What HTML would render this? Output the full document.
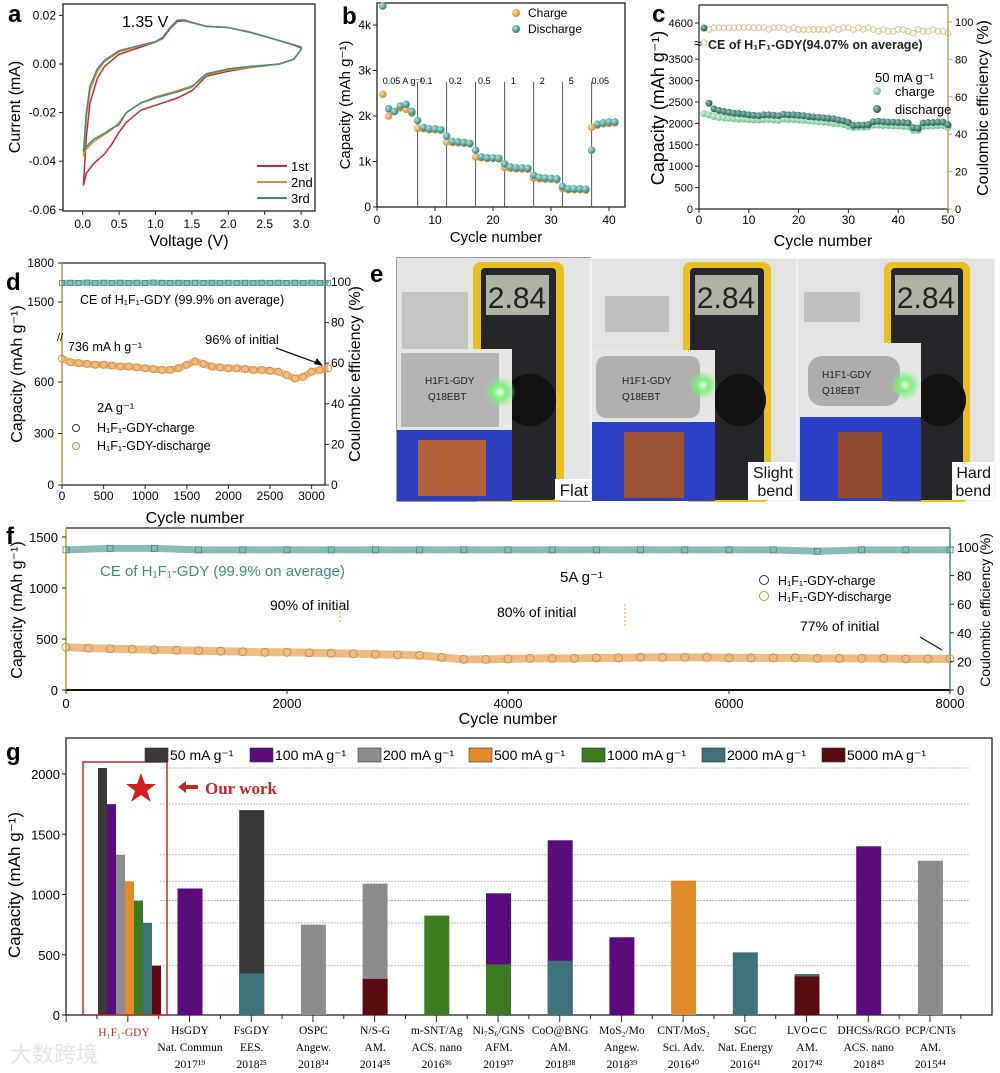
<!DOCTYPE html>
<html><head><meta charset="utf-8"><style>
body{margin:0;background:#fff}
svg{display:block;font-family:"Liberation Sans","Noto Sans CJK SC",sans-serif}
</style></head><body>
<svg id="fig" width="1000" height="1073" viewBox="0 0 1000 1073" xmlns="http://www.w3.org/2000/svg">
<defs>
<radialGradient id="gOr" cx="35%" cy="35%" r="65%"><stop offset="0" stop-color="#fbe0b0"/><stop offset="1" stop-color="#d88a2a"/></radialGradient>
<radialGradient id="gTe" cx="35%" cy="35%" r="65%"><stop offset="0" stop-color="#b6e0da"/><stop offset="1" stop-color="#2f8580"/></radialGradient>
<radialGradient id="gLg" cx="35%" cy="35%" r="65%"><stop offset="0" stop-color="#d8f0dc"/><stop offset="1" stop-color="#6fbf90"/></radialGradient>
<radialGradient id="gDg" cx="35%" cy="35%" r="65%"><stop offset="0" stop-color="#8fc0b0"/><stop offset="1" stop-color="#1f5f55"/></radialGradient>
<radialGradient id="glow" cx="50%" cy="50%" r="50%"><stop offset="0" stop-color="#f4fff4"/><stop offset="0.4" stop-color="#7cf07c"/><stop offset="1" stop-color="#7cf07c" stop-opacity="0"/></radialGradient>
</defs>
<g id="pa"></g>
<g id="pb"></g>
<g id="pc"></g>
<g id="pd"></g>
<g id="pe">
  <text x="370" y="282" font-size="24" font-weight="bold">e</text>
  <rect x="397" y="258" width="598" height="243" fill="#dcdcda" stroke="#333"/>
  <g>
    <rect x="397" y="258" width="194" height="243" fill="#e4e4e2"/>
    <rect x="402" y="292" width="66" height="58" fill="#c4c4c2"/>
    <rect x="473" y="262" width="91" height="240" rx="8" fill="#e8c020"/>
    <rect x="481" y="268" width="75" height="232" rx="4" fill="#26262a"/>
    <rect x="486" y="275" width="63" height="40" fill="#aeb3a6"/>
    <text x="517" y="308" font-size="30" text-anchor="middle" fill="#222">2.84</text>
    <circle cx="530" cy="400" r="26" fill="#111"/>
    <rect x="397" y="349" width="115" height="81" fill="#e6e6e4"/>
    <rect x="401" y="353" width="98" height="74" fill="#b3b3b3"/>
    <text x="425" y="384" font-size="10" fill="#222">H1F1-GDY</text>
    <text x="428" y="400" font-size="10" fill="#222">Q18EBT</text>
    <circle cx="500" cy="392" r="16" fill="url(#glow)"/>
    <rect x="397" y="430" width="115" height="71" fill="#2b3fbe"/>
    <rect x="418" y="440" width="68" height="56" fill="#b2613c"/>
    <rect x="555" y="479" width="36" height="21" fill="#fff"/>
    <text x="588" y="496" font-size="17" text-anchor="end" fill="#111">Flat</text>
  </g>
  <g>
    <rect x="591" y="258" width="206" height="243" fill="#e2e2e0" stroke="#fff"/>
    <rect x="605" y="296" width="64" height="36" fill="#c0c0be"/>
    <rect x="683" y="262" width="88" height="240" rx="8" fill="#e8c020"/>
    <rect x="690" y="268" width="74" height="232" rx="4" fill="#26262a"/>
    <rect x="695" y="275" width="63" height="40" fill="#aeb3a6"/>
    <text x="726" y="308" font-size="30" text-anchor="middle" fill="#222">2.84</text>
    <circle cx="740" cy="400" r="26" fill="#111"/>
    <rect x="592" y="350" width="123" height="72" fill="#e6e6e4"/>
    <rect x="596" y="356" width="104" height="62" rx="10" fill="#b0b0b0"/>
    <text x="622" y="384" font-size="10" fill="#222">H1F1-GDY</text>
    <text x="622" y="400" font-size="10" fill="#222">Q18EBT</text>
    <circle cx="703" cy="385" r="14" fill="url(#glow)"/>
    <rect x="592" y="422" width="123" height="79" fill="#2b40c4"/>
    <rect x="624" y="432" width="60" height="66" fill="#9c5236"/>
    <rect x="748" y="462" width="48" height="38" fill="#fff"/>
    <text x="793" y="478" font-size="16" text-anchor="end" fill="#111">Slight</text>
    <text x="793" y="496" font-size="16" text-anchor="end" fill="#111">bend</text>
  </g>
  <g>
    <rect x="797" y="258" width="198" height="243" fill="#e2e2e0" stroke="#fff"/>
    <rect x="804" y="292" width="56" height="30" fill="#c0c0be"/>
    <rect x="884" y="262" width="86" height="240" rx="8" fill="#e8c020"/>
    <rect x="891" y="268" width="72" height="232" rx="4" fill="#26262a"/>
    <rect x="895" y="275" width="63" height="40" fill="#aeb3a6"/>
    <text x="926" y="308" font-size="30" text-anchor="middle" fill="#222">2.84</text>
    <circle cx="940" cy="400" r="26" fill="#111"/>
    <rect x="800" y="343" width="121" height="74" fill="#e6e6e4"/>
    <rect x="808" y="356" width="92" height="50" rx="14" fill="#adadad"/>
    <text x="822" y="378" font-size="10" fill="#222">H1F1-GDY</text>
    <text x="822" y="394" font-size="10" fill="#222">Q18EBT</text>
    <circle cx="905" cy="385" r="15" fill="url(#glow)"/>
    <rect x="800" y="417" width="121" height="84" fill="#2a3fc6"/>
    <rect x="838" y="432" width="44" height="66" fill="#8e4a32"/>
    <rect x="952" y="462" width="42" height="38" fill="#fff"/>
    <text x="991" y="478" font-size="16" text-anchor="end" fill="#111">Hard</text>
    <text x="991" y="496" font-size="16" text-anchor="end" fill="#111">bend</text>
  </g>
</g>
<g id="pf"></g>
<g id="pg"></g>
<text x="10" y="1062" font-size="22" fill="#e4e4e4">大数跨境</text>
</svg>
<script>
const cvV_up=[0.01,0.05,0.1,0.2,0.3,0.5,0.8,1.0,1.1,1.2,1.3,1.4,1.5,1.7,2.0,2.3,2.6,2.9,3.0];
const cv1_up=[-0.050,-0.030,-0.016,-0.006,-0.001,0.004,0.007,0.009,0.0105,0.0145,0.0175,0.0178,0.017,0.0155,0.015,0.013,0.0105,0.0078,0.0065];
const cv2_up=[-0.038,-0.022,-0.011,-0.003,0.001,0.005,0.0075,0.009,0.011,0.015,0.018,0.0182,0.0172,0.0155,0.015,0.0132,0.0105,0.008,0.007];
const cv3_up=[-0.036,-0.020,-0.009,-0.002,0.0015,0.0055,0.0078,0.0092,0.011,0.015,0.018,0.018,0.017,0.0155,0.015,0.013,0.0105,0.0078,0.0068];
const cvV_dn=[3.0,2.9,2.7,2.3,2.0,1.7,1.6,1.5,1.3,1.0,0.8,0.6,0.5,0.4,0.3,0.15,0.05,0.01];
const cv1_dn=[0.006,0.002,0.0,-0.0015,-0.003,-0.005,-0.008,-0.011,-0.014,-0.017,-0.019,-0.024,-0.028,-0.033,-0.037,-0.041,-0.045,-0.050];
const cv2_dn=[0.006,0.002,0.0,-0.0015,-0.0025,-0.0045,-0.007,-0.009,-0.011,-0.0135,-0.016,-0.020,-0.024,-0.027,-0.029,-0.032,-0.035,-0.038];
const cv3_dn=[0.006,0.002,0.0,-0.001,-0.002,-0.004,-0.0065,-0.0095,-0.0115,-0.014,-0.016,-0.020,-0.025,-0.0265,-0.0285,-0.031,-0.034,-0.036];

const bCharge=[2480,2000,2100,2180,2150,2060,1730,1720,1700,1700,1690,1430,1420,1410,1400,1390,1100,1080,1070,1070,1060,870,850,840,840,830,640,620,610,610,600,400,380,380,380,370,1750,1800,1830,1840,1850];
const bDischarge=[4420,2160,2100,2220,2260,2100,1900,1750,1720,1720,1700,1560,1440,1430,1420,1400,1250,1100,1080,1080,1070,950,880,860,860,850,700,650,640,630,620,450,400,400,400,390,1250,1820,1850,1870,1870];
const bRateLabels=["0.05 A g⁻¹","0.1","0.2","0.5","1","2","5","0.05"];
const bRateCycles=[1,8.5,13.5,18.5,23.5,28.5,33.5,38.5];
const bSwitch=[7,12,17,22,27,32,37];

const cDischarge=[4550,2470,2340,2300,2280,2260,2240,2230,2220,2200,2190,2180,2200,2200,2190,2180,2210,2200,2200,2190,2180,2160,2150,2140,2130,2120,2110,2080,2060,2020,1950,1960,1960,1970,2040,2050,2040,2030,2030,2020,2020,2010,1900,1890,2010,2020,2020,2030,2030,1970];
const cCharge=[2230,2200,2160,2140,2130,2120,2110,2100,2100,2090,2080,2080,2090,2090,2080,2070,2100,2090,2090,2080,2070,2060,2050,2040,2030,2020,2000,1990,1970,1930,1900,1910,1910,1920,1960,1960,1950,1950,1940,1940,1930,1920,1840,1840,1930,1940,1940,1950,1950,1910];
const cCE=[89,96,97,97,97,97,97,97,97,97,97,97,97,96,97,97,97,96,97,96,96,96,96,96,96,96,97,96,97,97,96,97,96,97,96,95,96,95,95,96,96,95,94,96,95,95,96,95,95,94];

const dCap=[736,715,710,705,700,700,695,690,690,685,680,675,670,670,680,700,720,705,690,685,680,680,675,670,670,665,660,640,620,630,660,670,680];
const dCE=[99.5,99.6,99.5,99.7,99.5,99.6,99.5,99.6,99.5,99.6,99.5,99.7,99.6,99.5,99.6,99.5,99.6,99.5,99.6,99.5,99.6,99.5,99.6,99.5,99.6,99.5,99.6,99.5,99.6,99.5,99.6,99.5,99.6];

const fCap=[420,410,405,400,395,390,385,380,375,370,370,365,360,355,350,345,340,320,300,300,305,310,310,310,315,315,320,320,320,320,315,315,315,315,310,310,310,310,305,305,305];
const fCE=[98,99,99,98,98,98,98,98,98,98,98,98,98,98,98,98,98,97,98,98,98];

const gCats=[["HsGDY","Nat. Commun","2017¹⁹"],["FsGDY","EES.","2018²⁵"],["OSPC","Angew.","2018³⁴"],["N/S-G","AM.","2014³⁵"],["m-SNT/Ag","ACS. nano","2016³⁶"],["Ni₇S₆/GNS","AFM.","2019³⁷"],["CoO@BNG","AM.","2018³⁸"],["MoS₂/Mo","Angew.","2018³⁹"],["CNT/MoS₂","Sci. Adv.","2016⁴⁰"],["SGC","Nat. Energy","2016⁴¹"],["LVO⊂C","AM.","2017⁴²"],["DHCSs/RGO","ACS. nano","2018⁴³"],["PCP/CNTs","AM.","2015⁴⁴"]];
const gRates=["50","100","200","500","1000","2000","5000"];
const gOurs=[2050,1750,1330,1110,950,765,410];
const gBars=[[[1,1050]],[[0,1700],[5,345]],[[2,750]],[[2,1090],[6,300]],[[4,825]],[[1,1010],[4,420]],[[1,1450],[5,450]],[[1,645]],[[3,1115]],[[5,520]],[[5,340],[6,320]],[[1,1400]],[[2,1280]]];
const gYTicks=[0,500,1000,1500,2000];

const NS='http://www.w3.org/2000/svg';
function mk(parent,tag,attrs,name,txt){
  const el=document.createElementNS(NS,tag);
  for(const k in attrs) el.setAttribute(k,attrs[k]);
  
  
  if(txt!==undefined) el.textContent=txt;
  parent.appendChild(el); return el;
}
function T(p,x,y,s,fs,name,extra){return mk(p,'text',Object.assign({x:x,y:y,'font-size':fs},extra||{}),name,s);}
function R(p,x,y,s,fs,name,extra){return mk(p,'text',Object.assign({x:x,y:y,'font-size':fs,'text-anchor':'middle',transform:`rotate(-90 ${x} ${y})`},extra||{}),name,s);}
function L(p,x1,y1,x2,y2,st,w,name,extra){return mk(p,'line',Object.assign({x1,y1,x2,y2,stroke:st,'stroke-width':w},extra||{}),name);}
function box(p,x,y,w,h,name){return mk(p,'rect',{x,y,width:w,height:h,fill:'none',stroke:'#222','stroke-width':1.3},name);}
const $=id=>document.getElementById(id);

(function(){
  const p=$('pa'); const ax=v=>82.7+v*72.8, ay=c=>64-c*2430;
  T(p,8,22,'a',24,'panel-a-letter',{'font-weight':'bold'});
  box(p,63,4,252,207,'plot-frame');
  [0,0.5,1,1.5,2,2.5,3].forEach(v=>{L(p,ax(v),211,ax(v),215,'#222',1,'x-tick');T(p,ax(v),228,v.toFixed(1),12,'x-tick-label',{'text-anchor':'middle'});});
  [0.02,0,-0.02,-0.04,-0.06].forEach(v=>{L(p,59,ay(v),63,ay(v),'#222',1,'y-tick');T(p,56,ay(v)+4,v.toFixed(2),12,'y-tick-label',{'text-anchor':'end'});});
  T(p,189,246,'Voltage (V)',16,'x-axis-title',{'text-anchor':'middle'});
  R(p,20,107,'Current (mA)',16,'y-axis-title');
  const ser=[[cv1_up,cv1_dn,'#c8282e','cv-1st'],[cv2_up,cv2_dn,'#d4902c','cv-2nd'],[cv3_up,cv3_dn,'#3e8a86','cv-3rd']];
  ser.forEach(s=>{
    const pts=cvV_up.map((v,i)=>ax(v)+','+ay(s[0][i])).concat(cvV_dn.map((v,i)=>ax(v)+','+ay(s[1][i])));
    mk(p,'polyline',{points:pts.join(' '),fill:'none',stroke:s[2],'stroke-width':1.5,'stroke-linejoin':'round'},s[3]);
  });
  T(p,122,27,'1.35 V',16,'peak-annotation');
  ['1st','2nd','3rd'].forEach((t,i)=>{L(p,257,166+i*16,287,166+i*16,ser[i][2],2,'legend-line');T(p,291,171+i*16,t,13,'legend-entry');});
})();

(function(){
  const p=$('pb'); const bx=c=>377+c*5.8, by=v=>207-v*0.0455;
  T(p,342,24,'b',24,'panel-b-letter',{'font-weight':'bold'});
  box(p,377,3,248,204,'plot-frame');
  [0,10,20,30,40].forEach(v=>{L(p,bx(v),207,bx(v),211,'#222',1,'x-tick');T(p,bx(v),224,v,12,'x-tick-label',{'text-anchor':'middle'});});
  [0,1000,2000,3000,4000].forEach(v=>{L(p,373,by(v),377,by(v),'#222',1,'y-tick');T(p,371,by(v)+4,v?v/1000+'k':'0',12,'y-tick-label',{'text-anchor':'end'});});
  T(p,496,242,'Cycle number',15,'x-axis-title',{'text-anchor':'middle'});
  R(p,350,105,'Capacity (mAh g⁻¹)',15,'y-axis-title');
  bSwitch.forEach(c=>L(p,bx(c),by(2750),bx(c),207,'#555',1,'rate-divider'));
  bRateLabels.forEach((t,i)=>T(p,bx(bRateCycles[i]),by(2700),t,9,'rate-label',{'text-anchor':i==0?'start':'middle'}));
  bCharge.forEach((v,i)=>mk(p,'circle',{cx:bx(i+1),cy:by(v),r:3.8,fill:'url(#gOr)'},'charge-point'));
  bDischarge.forEach((v,i)=>mk(p,'circle',{cx:bx(i+1),cy:by(v),r:3.8,fill:'url(#gTe)'},'discharge-point'));
  mk(p,'circle',{cx:516,cy:13,r:4,fill:'url(#gOr)'},'legend-charge-marker');T(p,528,17,'Charge',12,'legend-charge');
  mk(p,'circle',{cx:516,cy:29,r:4,fill:'url(#gTe)'},'legend-discharge-marker');T(p,528,33,'Discharge',12,'legend-discharge');
})();

(function(){
  const p=$('pc'); const cx=c=>699+c*4.98, cy=v=>v>4000?23-(v-4600)*0.1:209-v*0.0428, cr=q=>209-q*1.87;
  T(p,652,22,'c',24,'panel-c-letter',{'font-weight':'bold'});
  L(p,699,5,948,5,'#222',1.2,'top-axis');L(p,699,209,948,209,'#222',1.2,'x-axis');L(p,699,5,699,209,'#222',1.2,'y-axis-left');
  L(p,948,5,948,209,'#c8a060',1.5,'y-axis-right');
  [0,10,20,30,40,50].forEach(v=>{L(p,cx(v),209,cx(v),213,'#222',1,'x-tick');T(p,cx(v),224,v,12,'x-tick-label',{'text-anchor':'middle'});});
  [0,500,1000,1500,2000,2500,3000,3500,4600].forEach(v=>{L(p,695,cy(v),699,cy(v),'#222',1,'y-tick');T(p,693,cy(v)+4,v,11,'y-tick-label',{'text-anchor':'end'});});
  T(p,694,48,'≈',14,'axis-break');
  [0,20,40,60,80,100].forEach(v=>{L(p,948,cr(v),952,cr(v),'#c8a060',1,'y2-tick');T(p,955,cr(v)+4,v,11,'y2-tick-label');});
  T(p,823,246,'Cycle number',16,'x-axis-title',{'text-anchor':'middle'});
  R(p,664,108,'Capacity (mAh g⁻¹)',18,'y-axis-title');
  R(p,988,108,'Coulombic efficiency (%)',16,'y2-axis-title');
  cCE.forEach((v,i)=>mk(p,'circle',{cx:cx(i+1),cy:cr(v),r:2.8,fill:'none',stroke:'#e0b070','stroke-width':0.8},'ce-point'));
  cCharge.forEach((v,i)=>mk(p,'circle',{cx:cx(i+1),cy:cy(v),r:3.5,fill:'url(#gLg)'},'charge-point'));
  cDischarge.forEach((v,i)=>mk(p,'circle',{cx:cx(i+1),cy:cy(v),r:3.5,fill:'url(#gDg)'},'discharge-point'));
  T(p,708,49,'CE of H₁F₁-GDY(94.07% on average)',12.5,'ce-annotation',{'font-weight':'bold','fill':'#222'});
  T(p,875,82,'50 mA g⁻¹',13,'legend-title');
  mk(p,'circle',{cx:877,cy:91,r:4,fill:'url(#gLg)'},'legend-charge-marker');T(p,895,96,'charge',13,'legend-charge');
  mk(p,'circle',{cx:877,cy:109,r:4,fill:'url(#gDg)'},'legend-discharge-marker');T(p,895,114,'discharge',13,'legend-discharge');
})();

(function(){
  const p=$('pd'); const dx=c=>62+c*0.0832, dy=v=>v>1200?302-(v-1500)*0.13:485-v*0.1717, dr=q=>485-q*2.03;
  T(p,6,290,'d',24,'panel-d-letter',{'font-weight':'bold'});
  L(p,62,263,325,263,'#222',1.2,'top-axis');L(p,62,485,325,485,'#222',1.2,'x-axis');
  L(p,62,263,62,485,'#d4902c',1.5,'y-axis-left');L(p,325,263,325,485,'#222',1.2,'y-axis-right');
  [0,500,1000,1500,2000,2500,3000].forEach(v=>{L(p,dx(v),485,dx(v),489,'#222',1,'x-tick');T(p,dx(v),500,v,12,'x-tick-label',{'text-anchor':'middle'});});
  [0,300,600,1500,1800].forEach(v=>{L(p,58,dy(v),62,dy(v),'#222',1,'y-tick');T(p,54,dy(v)+4,v,12,'y-tick-label',{'text-anchor':'end'});});
  T(p,57,341,'//',11,'axis-break');
  [0,20,40,60,80,100].forEach(v=>{L(p,325,dr(v),329,dr(v),'#222',1,'y2-tick');T(p,331,dr(v)+4,v,12,'y2-tick-label');});
  T(p,195,523,'Cycle number',16,'x-axis-title',{'text-anchor':'middle'});
  R(p,22,374,'Capacity (mAh g⁻¹)',16,'y-axis-title');
  R(p,360,374,'Coulombic efficiency (%)',16,'y2-axis-title');
  mk(p,'polyline',{points:dCE.map((v,i)=>dx(i*100)+','+dr(v)).join(' '),fill:'none',stroke:'#6aaaa4','stroke-width':6,opacity:0.8},'ce-band');
  dCE.forEach((v,i)=>mk(p,'rect',{x:dx(i*100)-2.5,y:dr(v)-2.5,width:5,height:5,fill:'none',stroke:'#3e8a86','stroke-width':0.8},'ce-point'));
  mk(p,'polyline',{points:dCap.map((v,i)=>dx(i*100)+','+dy(v)).join(' '),fill:'none',stroke:'#e8b070','stroke-width':7,opacity:0.85},'capacity-band');
  dCap.forEach((v,i)=>mk(p,'circle',{cx:dx(i*100),cy:dy(v),r:3.5,fill:'none',stroke:'#d48a34','stroke-width':0.9},'discharge-point'));
  T(p,80,304,'CE of H₁F₁-GDY (99.9% on average)',12.5,'ce-annotation');
  T(p,68,351,'736 mA h g⁻¹',12.5,'initial-capacity-annotation');
  T(p,205,344,'96% of initial',13,'retention-annotation');
  L(p,276,348,320,364,'#111',1.2,'retention-arrow');
  mk(p,'polygon',{points:'323,366 314,364 317,358'},'arrow-head');
  T(p,97,412,'2A g⁻¹',13,'rate-label');
  mk(p,'circle',{cx:76,cy:428,r:3.5,fill:'none',stroke:'#333'},'legend-charge-marker');T(p,97,432,'H₁F₁-GDY-charge',12.5,'legend-charge');
  mk(p,'circle',{cx:76,cy:446,r:3.5,fill:'none',stroke:'#d48a34'},'legend-discharge-marker');T(p,97,450,'H₁F₁-GDY-discharge',12.5,'legend-discharge');
})();

(function(){
  const p=$('pf'); const fx=c=>66+c*0.1105, fy=v=>690-v*0.102, fr=q=>690-q*1.43;
  T(p,6,544,'f',24,'panel-f-letter',{'font-weight':'bold'});
  L(p,66,528,950,528,'#222',1.2,'top-axis');L(p,66,690,950,690,'#111',2,'x-axis');
  L(p,66,528,66,690,'#d4902c',1.5,'y-axis-left');L(p,950,528,950,690,'#3e8a86',1.5,'y-axis-right');
  [0,2000,4000,6000,8000].forEach(v=>{L(p,fx(v),690,fx(v),694,'#222',1,'x-tick');T(p,fx(v),708,v,13,'x-tick-label',{'text-anchor':'middle'});});
  [0,500,1000,1500].forEach(v=>{L(p,62,fy(v),66,fy(v),'#222',1,'y-tick');T(p,58,fy(v)+5,v,13,'y-tick-label',{'text-anchor':'end'});});
  [0,20,40,60,80,100].forEach(v=>{L(p,950,fr(v),954,fr(v),'#222',1,'y2-tick');T(p,957,fr(v)+5,v,13,'y2-tick-label');});
  T(p,508,724,'Cycle number',16,'x-axis-title',{'text-anchor':'middle'});
  R(p,22,610,'Capacity (mAh g⁻¹)',16,'y-axis-title');
  R(p,990,610,'Coulombic efficiency (%)',14,'y2-axis-title');
  mk(p,'polyline',{points:fCE.map((v,i)=>fx(i*400)+','+fr(v)).join(' '),fill:'none',stroke:'#6aaaa4','stroke-width':7,opacity:0.8},'ce-band');
  fCE.forEach((v,i)=>mk(p,'rect',{x:fx(i*400)-3,y:fr(v)-3,width:6,height:6,fill:'none',stroke:'#3e8a86','stroke-width':0.8},'ce-point'));
  mk(p,'polyline',{points:fCap.map((v,i)=>fx(i*200)+','+fy(v)).join(' '),fill:'none',stroke:'#e8b070','stroke-width':8,opacity:0.85},'capacity-band');
  fCap.forEach((v,i)=>mk(p,'circle',{cx:fx(i*200),cy:fy(v),r:4,fill:'none',stroke:'#d48a34','stroke-width':0.9},'discharge-point'));
  T(p,100,576,'CE of H₁F₁-GDY (99.9% on average)',15,'ce-annotation',{fill:'#3e8a86'});
  T(p,560,582,'5A g⁻¹',15,'rate-label');
  mk(p,'circle',{cx:764,cy:580,r:4.5,fill:'none',stroke:'#333'},'legend-charge-marker');T(p,778,585,'H₁F₁-GDY-charge',12.5,'legend-charge');
  mk(p,'circle',{cx:764,cy:596,r:4.5,fill:'none',stroke:'#d48a34'},'legend-discharge-marker');T(p,778,601,'H₁F₁-GDY-discharge',12.5,'legend-discharge');
  T(p,270,610,'90% of initial',14,'retention-90');L(p,340,600,340,624,'#e0a040',1,'marker-90',{'stroke-dasharray':'2,2'});
  T(p,497,617,'80% of initial',14,'retention-80');L(p,625,604,625,628,'#e0a040',1,'marker-80',{'stroke-dasharray':'2,2'});
  T(p,800,631,'77% of initial',14,'retention-77');L(p,920,637,942,650,'#111',1.2,'retention-arrow');
})();

(function(){
  const p=$('pg'); const gy=v=>1015-v*0.1205;
  const cols=['#3a3a3a','#5a0c7c','#8c8c8c','#e08a2a','#3e7a20','#3d7378','#5a0c10'];
  const cxs=gCats.map((c,i)=>190+i*61.7);
  T(p,6,760,'g',24,'panel-g-letter',{'font-weight':'bold'});
  box(p,66,738,926,277,'plot-frame');
  gOurs.forEach(v=>L(p,160,gy(v),970,gy(v),'#bbb',1,'gridline',{'stroke-dasharray':'2,1'}));
  gYTicks.forEach(v=>{L(p,62,gy(v),66,gy(v),'#222',1,'y-tick');T(p,60,gy(v)+5,v,13,'y-tick-label',{'text-anchor':'end'});});
  R(p,20,885,'Capacity (mAh g⁻¹)',17,'y-axis-title');
  for(let i=0;i<15;i++){L(p,97+i*61.7-30.85,1015,97+i*61.7-30.85,1022,'#222',1,'x-tick');L(p,97+i*61.7,1015,97+i*61.7,1019,'#222',1,'x-minor-tick');}
  gOurs.forEach((v,i)=>mk(p,'rect',{x:98+i*9,y:gy(v),width:9,height:1015-gy(v),fill:cols[i]},'bar-ours-'+gRates[i]));
  gBars.forEach((bars,ci)=>bars.forEach(b=>mk(p,'rect',{x:cxs[ci]-12.5,y:gy(b[1]),width:25,height:1015-gy(b[1]),fill:cols[b[0]]},'bar-'+ci+'-'+gRates[b[0]])));
  mk(p,'rect',{x:83,y:762,width:84,height:253,fill:'none',stroke:'#c02828','stroke-width':1.5},'our-work-box');
  mk(p,'polygon',{points:'141,773 145,784 156,784 147,791 151,802 141,795 131,802 135,791 126,784 137,784',fill:'#d02020'},'star');
  mk(p,'polygon',{points:'178,787 186,781 186,785 198,785 198,789 186,789 186,793',fill:'#c02828'},'arrow-left');
  T(p,205,794,'Our work',17,'our-work-label',{fill:'#c02828','font-family':'Liberation Serif,serif','font-weight':'bold'});
  gRates.forEach((r,i)=>{const x=[145,250,358,469,582,702,822][i];mk(p,'rect',{x:x,y:748,width:23,height:14,fill:cols[i],stroke:'#333','stroke-width':0.6},'legend-swatch');T(p,x+25,760,r+' mA g⁻¹',14,'legend-entry',{});});
  T(p,124,1036,'H₁F₁-GDY',11.5,'category-label',{'text-anchor':'middle',fill:'#c02828','font-family':'Liberation Serif,serif'});
  gCats.forEach((c,i)=>c.forEach((s,j)=>T(p,cxs[i],1034+j*17,s,11.5,'category-label',{'text-anchor':'middle','font-family':'Liberation Serif,serif'})));
})();
</script>
</body></html>
